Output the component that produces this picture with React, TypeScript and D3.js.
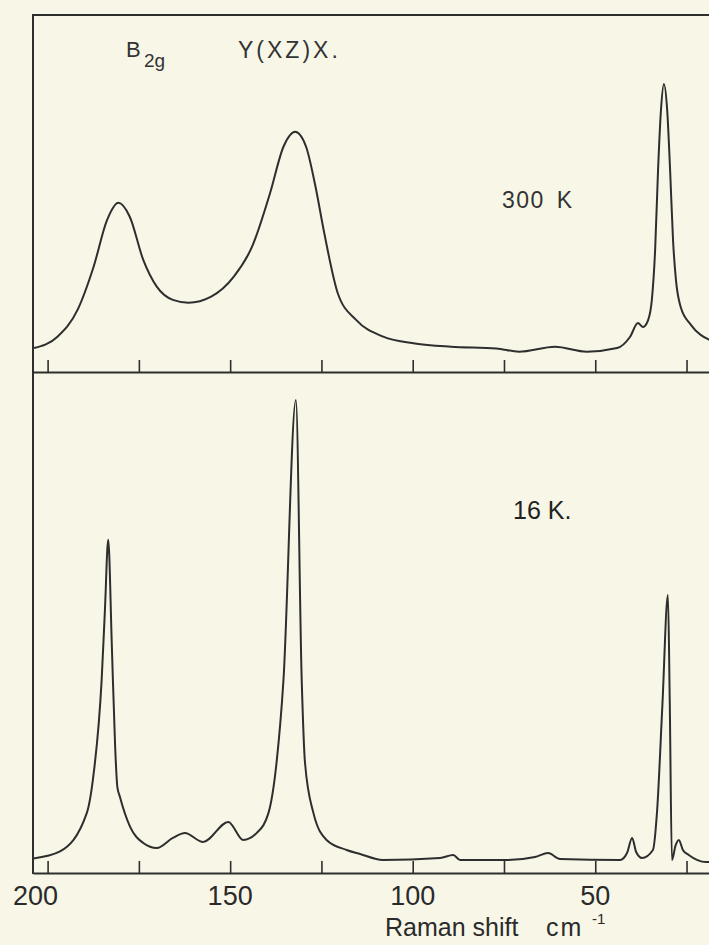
import React, { useEffect, useRef } from 'react';
import * as d3 from 'd3';

// 300 K spectrum (Raman shift cm-1, intensity arb. units)
const shift300 = [203.7, 197.3, 191.8, 187.4, 183.7, 180.6, 177.5, 173.8, 170.1, 165.7, 161.4, 155.2, 149.0, 144.0, 139.1, 135.4, 132.2, 129.2, 126.7, 124.2, 120.5, 115.5, 108.1, 99.4, 89.5, 77.1, 70.9, 61.0, 52.3, 44.0, 40.5, 38.3, 36.9, 35.5, 34.5, 33.6, 32.8, 32.0, 31.2, 30.3, 29.5, 28.7, 27.9, 26.6, 23.8, 18.3];
const int300 = [6.7, 9.9, 17.4, 29.5, 42.6, 47.4, 43.5, 31.4, 23.9, 20.2, 19.4, 21.1, 26.7, 35.1, 50.0, 63.1, 67.3, 63.1, 52.3, 38.8, 22.0, 14.6, 9.9, 8.0, 7.1, 6.6, 5.7, 7.1, 5.7, 6.7, 9.8, 13.7, 12.6, 14.6, 20.2, 34.2, 56.6, 73.4, 80.7, 73.4, 56.6, 37.0, 25.8, 18.2, 13.2, 8.8];

// 16 K spectrum
const shift16 = [203.9, 196.6, 189.3, 187.6, 185.2, 184.3, 183.4, 182.4, 181.5, 180.9, 180.2, 177.4, 173.8, 170.1, 165.7, 162.4, 157.4, 150.5, 146.4, 142.7, 139.5, 137.3, 135.4, 132.0, 130.4, 129.5, 127.2, 123.6, 118.1, 114.4, 108.2, 92.5, 88.9, 87.0, 74.2, 66.5, 62.9, 59.7, 43.2, 41.3, 39.9, 38.8, 37.2, 34.2, 33.1, 31.6, 30.1, 29.6, 29.0, 28.0, 27.1, 26.0, 24.4, 19.7, 18.3];
const int16 = [2.9, 4.3, 11.9, 18.6, 38.5, 52.5, 66.5, 45.2, 25.2, 17.2, 15.2, 9.2, 6.0, 5.0, 7.0, 8.0, 6.2, 10.2, 6.6, 8.0, 12.0, 22.0, 38.5, 94.4, 38.5, 22.0, 12.0, 6.6, 4.6, 3.8, 2.6, 3.0, 3.6, 2.6, 2.6, 3.2, 4.0, 2.8, 2.6, 4.0, 7.0, 4.2, 3.0, 4.6, 12.0, 33.7, 55.5, 34.5, 2.6, 5.5, 6.6, 4.6, 3.6, 2.2, 2.2];

const tickValues = [200, 175, 150, 125, 100, 75, 50, 25];
const tickLabels = [200, 150, 100, 50];

const W = 709;
const H = 945;
const ink = '#2e2e2e';
const font = '"Liberation Sans", Arial, sans-serif';

const x = d3.scaleLinear().domain([204, 18]).range([33, 33 + 186 * 3.651]);
const yTop = d3.scaleLinear().domain([0, 100]).range([372, 15]);
const yBot = d3.scaleLinear().domain([0, 100]).range([873, 372]);

const App = () => {
  const topAxisRef = useRef<SVGGElement>(null);
  const botAxisRef = useRef<SVGGElement>(null);

  useEffect(() => {
    // ticks point up from the baseline of each panel
    [topAxisRef, botAxisRef].forEach(ref => {
      const g = d3.select(ref.current);
      g.call(
        d3.axisTop(x).tickValues(tickValues).tickSize(12).tickSizeOuter(0).tickFormat(() => '')
      );
      g.select('.domain').attr('stroke', ink).attr('stroke-width', 2);
      g.selectAll('.tick line').attr('stroke', ink).attr('stroke-width', 1.6);
    });
  }, []);

  const lineTop = d3.line<number>()
    .x((d, i) => x(shift300[i]))
    .y(d => yTop(d))
    .curve(d3.curveMonotoneX);
  const lineBot = d3.line<number>()
    .x((d, i) => x(shift16[i]))
    .y(d => yBot(d))
    .curve(d3.curveMonotoneX);

  return (
    <svg width={W} height={H} style={{ position: 'absolute', left: 0, top: 0, display: 'block' }}>
      <rect x={0} y={0} width={W} height={H} fill="#f8f7e7" />

      {/* frame */}
      <line x1={33} x2={W + 5} y1={15} y2={15} stroke={ink} strokeWidth={2} />
      <line x1={33} x2={33} y1={14} y2={874} stroke={ink} strokeWidth={2} />
      <g ref={topAxisRef} transform="translate(0,372)" />
      <g ref={botAxisRef} transform="translate(0,873)" />

      {/* spectra */}
      <path d={lineTop(int300) || ''} fill="none" stroke={ink} strokeWidth={2} strokeLinejoin="round" />
      <path d={lineBot(int16) || ''} fill="none" stroke={ink} strokeWidth={2} strokeLinejoin="round" />

      {/* annotations */}
      <g fontFamily={font} fill="#333">
        <text x={126} y={57} fontSize={22}>B</text>
        <text x={144} y={67} fontSize={19}>2g</text>
        <text x={238} y={58} fontSize={23} letterSpacing={3}>Y(XZ)X.</text>
        <text x={502} y={208} fontSize={23} letterSpacing={1.5} wordSpacing={4}>300 K</text>
        <text x={513} y={519} fontSize={25} fill="#222">16 K.</text>
      </g>

      {/* x labels */}
      <g fontFamily={font} fill="#2a2a2a">
        {tickLabels.map((v, i) => (
          <text key={v} x={x(v) + (i === 0 ? -12 : 0)} y={905} fontSize={27} textAnchor="middle">{v}</text>
        ))}
        <text x={385} y={936} fontSize={25}>Raman shift</text>
        <text x={546} y={936} fontSize={25} letterSpacing={2}>cm</text>
        <text x={592} y={924} fontSize={15}>-1</text>
      </g>
    </svg>
  );
};

export default App;
